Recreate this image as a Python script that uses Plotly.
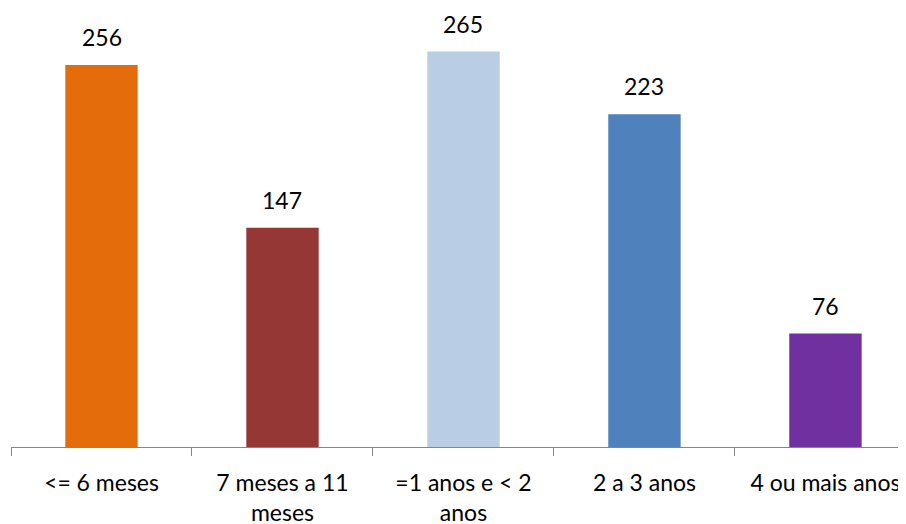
import plotly.graph_objects as go

categories = ["<= 6 meses", "7 meses a 11<br>meses", "=1 anos e < 2<br>anos", "2 a 3 anos", "4 ou mais anos"]
values = [256, 147, 265, 223, 76]
colors = ["#E46C0A", "#953735", "#B9CDE5", "#4F81BD", "#7030A0"]

FONT = "Lato"

fig = go.Figure(go.Bar(
    x=categories, y=values, marker=dict(color=colors, line=dict(width=0)),
    hoverinfo="skip", cliponaxis=False,
))

for c, v in zip(categories, values):
    fig.add_annotation(x=c, y=v, text=str(v), showarrow=False, yanchor="bottom",
                       yshift=12, font=dict(family=FONT, size=23, color="#000000"))

# page body adds an 8px offset, so the figure is sized/shifted to compensate
fig.update_layout(
    width=898, height=516,
    margin=dict(l=3, r=0, t=0, b=77),
    paper_bgcolor="white", plot_bgcolor="white",
    bargap=0.6, showlegend=False,
    xaxis=dict(
        range=[-0.5, 4.445], showgrid=False, zeroline=False, automargin=False,
        showline=True, linecolor="#868686", linewidth=1,
        ticks="outside", tickson="boundaries", ticklen=8, tickcolor="#868686",
        ticklabelstandoff=15,
        tickfont=dict(family=FONT, size=23, color="#000000"),
    ),
    yaxis=dict(range=[0, 294.2], visible=False, automargin=False),
)

fig.write_html("out.html")
